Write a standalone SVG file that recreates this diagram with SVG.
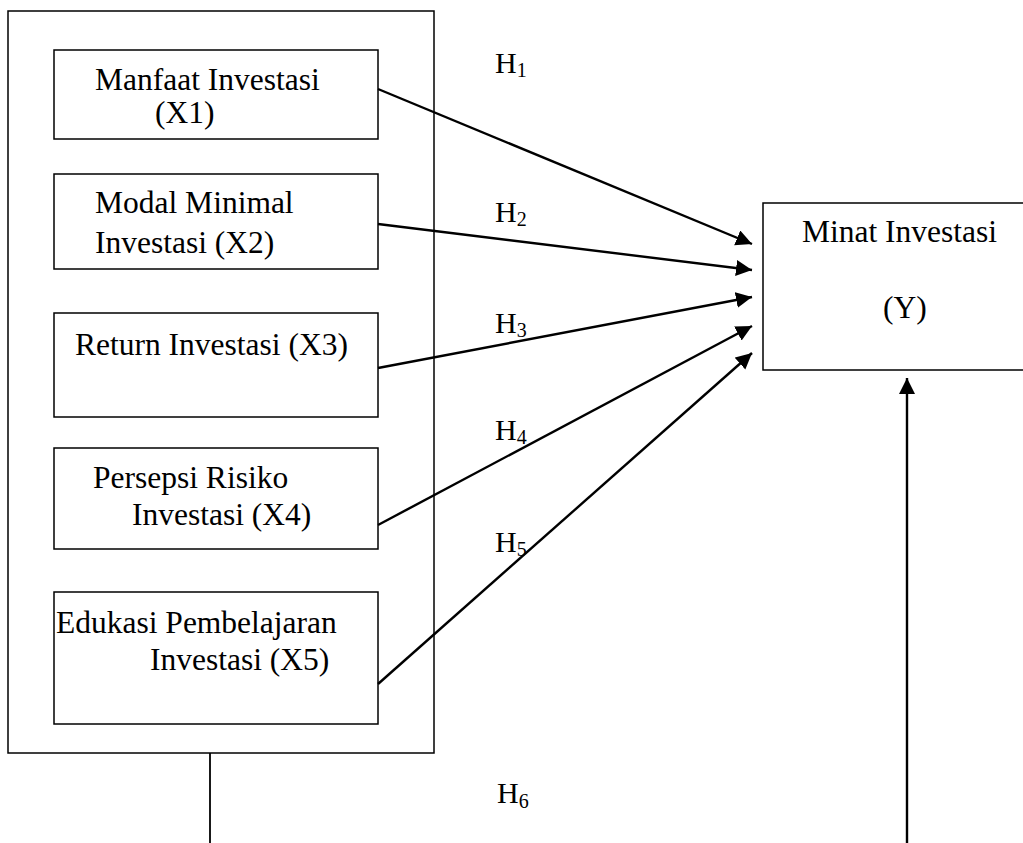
<svg xmlns="http://www.w3.org/2000/svg" width="1023" height="843" viewBox="0 0 1023 843">
<style>
.box{fill:#fff;stroke:#000;stroke-width:1.5}
.t{font-family:"Liberation Serif","Times New Roman",serif;font-size:31.5px;fill:#000}
.h{font-family:"Liberation Serif","Times New Roman",serif;font-size:30px;fill:#000}
.sub{font-size:20px}
.c{stroke:#000;stroke-width:2.4;fill:none}
</style>
<defs>
<marker id="arr" markerUnits="userSpaceOnUse" markerWidth="18" markerHeight="18" refX="16" refY="8" orient="auto">
<path d="M0,0 L16,8 L0,16 Z" fill="#000"/>
</marker>
</defs>
<rect width="1023" height="843" fill="#fff"/>
<g id="outer"><rect class="box" x="8" y="11" width="426" height="742"/></g>
<g id="x1"><rect class="box" x="54" y="50" width="324" height="89"/>
<text class="t" x="95" y="90">Manfaat Investasi</text><text class="t" x="155" y="123">(X1)</text></g>
<g id="x2"><rect class="box" x="54" y="174" width="324" height="95"/>
<text class="t" x="95" y="213">Modal Minimal</text><text class="t" x="95" y="253">Investasi (X2)</text></g>
<g id="x3"><rect class="box" x="54" y="313" width="324" height="104"/>
<text class="t" x="75" y="355">Return Investasi (X3)</text></g>
<g id="x4"><rect class="box" x="54" y="448" width="324" height="101"/>
<text class="t" x="93" y="488">Persepsi Risiko</text><text class="t" x="132" y="525">Investasi (X4)</text></g>
<g id="x5"><rect class="box" x="54" y="592" width="324" height="132"/>
<text class="t" x="56" y="633">Edukasi Pembelajaran</text><text class="t" x="150" y="670">Investasi (X5)</text></g>
<g id="y"><rect class="box" x="763" y="203" width="262" height="167"/>
<text class="t" x="802" y="242">Minat Investasi</text><text class="t" x="883" y="318">(Y)</text></g>
<g id="connectors">
<line class="c" x1="378" y1="89" x2="752" y2="244" marker-end="url(#arr)"/>
<line class="c" x1="378" y1="224" x2="752" y2="270" marker-end="url(#arr)"/>
<line class="c" x1="378" y1="368" x2="752" y2="297" marker-end="url(#arr)"/>
<line class="c" x1="378" y1="525" x2="752" y2="326" marker-end="url(#arr)"/>
<line class="c" x1="378" y1="684" x2="752" y2="353" marker-end="url(#arr)"/>
<line class="c" x1="210" y1="753" x2="210" y2="843" style="stroke-width:1.8"/>
<line class="c" x1="907" y1="843" x2="907" y2="378" marker-end="url(#arr)"/>
</g>
<g id="labels">
<text class="h" x="495" y="73">H<tspan class="sub" dy="4">1</tspan></text>
<text class="h" x="495" y="222">H<tspan class="sub" dy="4">2</tspan></text>
<text class="h" x="495" y="333">H<tspan class="sub" dy="4">3</tspan></text>
<text class="h" x="495" y="440">H<tspan class="sub" dy="4">4</tspan></text>
<text class="h" x="495" y="552">H<tspan class="sub" dy="4">5</tspan></text>
<text class="h" x="497" y="803">H<tspan class="sub" dy="5">6</tspan></text>
</g>
</svg>
